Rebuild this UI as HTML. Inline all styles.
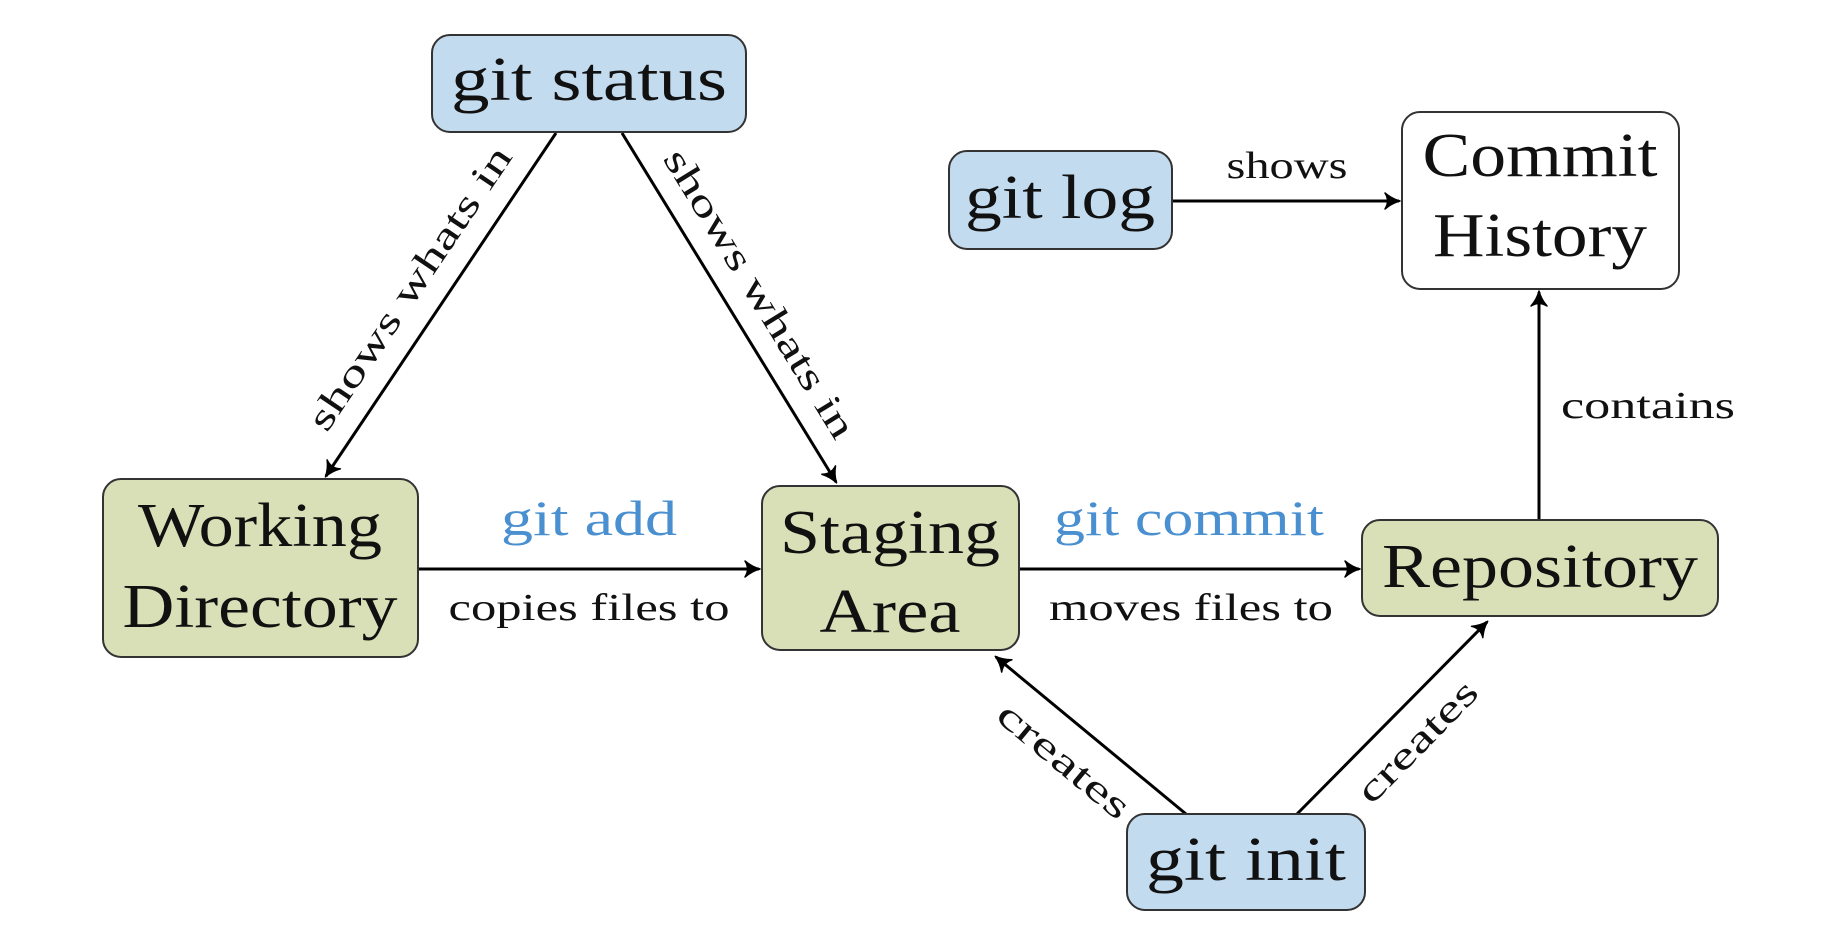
<!DOCTYPE html>
<html><head><meta charset="utf-8"><style>html,body{margin:0;padding:0;background:#fff}svg{display:block}text{font-family:"Liberation Serif",serif}</style></head><body>
<svg width="1832" height="938" viewBox="0 0 1832 938" xmlns="http://www.w3.org/2000/svg">
<defs><marker id="a" markerWidth="22" markerHeight="22" refX="17" refY="11" orient="auto" markerUnits="userSpaceOnUse"><path d="M3,3 Q10,9 18,11 Q10,13 3,19 Q8,11 3,3 Z" fill="#000" stroke="#000" stroke-width="1.5" stroke-linejoin="round"/></marker></defs>
<g stroke="#000" stroke-width="3" fill="none" marker-end="url(#a)">
<line x1="556" y1="133" x2="326" y2="476"/>
<line x1="622" y1="133" x2="836" y2="482"/>
<line x1="418" y1="569" x2="759" y2="569"/>
<line x1="1019" y1="569" x2="1359" y2="569"/>
<line x1="1172" y1="201" x2="1399" y2="201"/>
<line x1="1539" y1="520" x2="1539" y2="292"/>
<line x1="1186" y1="814" x2="996" y2="657"/>
<line x1="1297" y1="814" x2="1487" y2="622"/>
</g>
<g stroke="#333" stroke-width="2">
<rect x="432" y="35" width="314" height="97" rx="18" fill="#c3dbef"/>
<rect x="103" y="479" width="315" height="178" rx="18" fill="#d9dfb6"/>
<rect x="762" y="486" width="257" height="164" rx="18" fill="#d9dfb6"/>
<rect x="1362" y="520" width="356" height="96" rx="18" fill="#d9dfb6"/>
<rect x="949" y="151" width="223" height="98" rx="18" fill="#c3dbef"/>
<rect x="1402" y="112" width="277" height="177" rx="18" fill="#fff"/>
<rect x="1127" y="814" width="238" height="96" rx="18" fill="#c3dbef"/>
</g>
<g font-size="62" text-anchor="middle" fill="#111" lengthAdjust="spacingAndGlyphs">
<text x="589" y="100" textLength="276" lengthAdjust="spacingAndGlyphs">git status</text>
<text x="260" y="546" textLength="244" lengthAdjust="spacingAndGlyphs">Working</text>
<text x="260" y="627" textLength="275" lengthAdjust="spacingAndGlyphs">Directory</text>
<text x="890" y="553" textLength="220" lengthAdjust="spacingAndGlyphs">Staging</text>
<text x="890" y="632" textLength="141" lengthAdjust="spacingAndGlyphs">Area</text>
<text x="1540" y="587" textLength="316" lengthAdjust="spacingAndGlyphs">Repository</text>
<text x="1060" y="218" textLength="190" lengthAdjust="spacingAndGlyphs">git log</text>
<text x="1540" y="176" textLength="235" lengthAdjust="spacingAndGlyphs">Commit</text>
<text x="1540" y="256" textLength="214" lengthAdjust="spacingAndGlyphs">History</text>
<text x="1246" y="880" textLength="200" lengthAdjust="spacingAndGlyphs">git init</text>
</g>
<g font-size="50" text-anchor="middle" fill="#4a90d0">
<text x="589" y="535" textLength="176" lengthAdjust="spacingAndGlyphs">git add</text>
<text x="1189" y="535" textLength="270" lengthAdjust="spacingAndGlyphs">git commit</text>
</g>
<g font-size="38" fill="#111" text-anchor="middle">
<text x="589" y="620" textLength="281" lengthAdjust="spacingAndGlyphs">copies files to</text>
<text x="1191" y="620" textLength="284" lengthAdjust="spacingAndGlyphs">moves files to</text>
<text x="1287" y="178" textLength="121" lengthAdjust="spacingAndGlyphs">shows</text>
<text x="1648" y="418" textLength="174" lengthAdjust="spacingAndGlyphs">contains</text>
<text transform="translate(420,295) rotate(-56)" textLength="334" lengthAdjust="spacingAndGlyphs">shows whats in</text>
<text transform="translate(749,300) rotate(58.5)" textLength="332" lengthAdjust="spacingAndGlyphs">shows whats in</text>
<text transform="translate(1056,770) rotate(39.6)" textLength="161" lengthAdjust="spacingAndGlyphs">creates</text>
<text transform="translate(1426,750) rotate(-45.7)" textLength="156" lengthAdjust="spacingAndGlyphs">creates</text>
</g>
</svg>
</body></html>
